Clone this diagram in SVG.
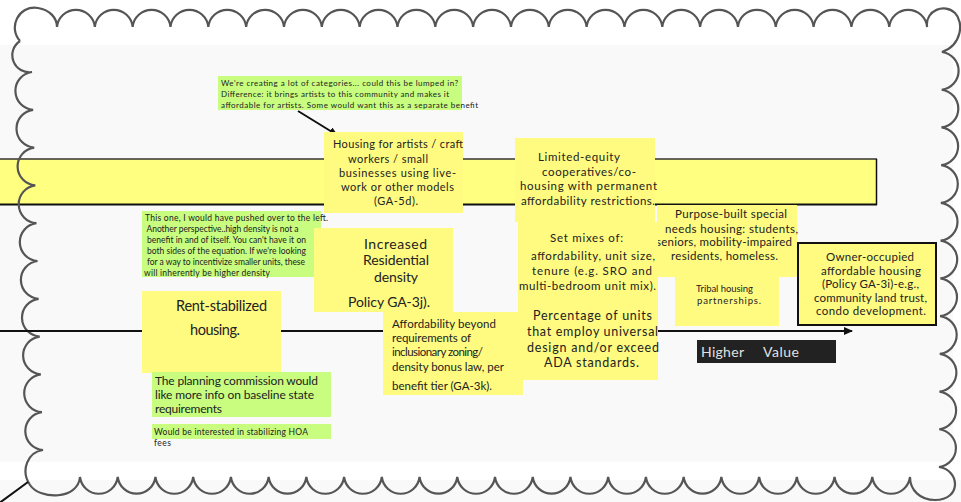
<svg xmlns="http://www.w3.org/2000/svg" width="961" height="502" viewBox="0 0 961 502">
<style>
.sticky{fill:#fffb80}
.note{fill:#c8fd80}
.t{font-family:Lato,"Liberation Sans",sans-serif;fill:#222}
.m{text-anchor:middle}
.conn{stroke:#111;stroke-width:2;fill:none}
.cloud{stroke:#555;stroke-width:2.2;fill:none}
</style>
<defs>
<marker id="ah" markerWidth="9" markerHeight="8" refX="8" refY="4" orient="auto" markerUnits="userSpaceOnUse"><path d="M0,0 L9,4 L0,8 z" fill="#111"/></marker>
</defs>
<rect width="961" height="502" fill="#fff"/>
<rect x="0" y="45" width="953" height="417" fill="#f9f9f9"/>
<rect x="0" y="480" width="961" height="22" fill="#f9f9f9"/>

<g id="band">
<rect x="-2" y="159" width="879" height="45" fill="#ffff80"/>
<line x1="0" y1="159" x2="877" y2="159" stroke="#333" stroke-width="1.5"/>
<line x1="0" y1="204.5" x2="877" y2="204.5" stroke="#111" stroke-width="2"/>
<line x1="876.5" y1="159" x2="876.5" y2="205" stroke="#111" stroke-width="1.5"/>
</g>

<path id="cloud-frame" class="cloud" d="M20,41 C8,28 18,5 38,8 C50,10 57,18 57,27
A19,19 0 0 1 94.83,27 A19,19 0 0 1 132.66,27 A19,19 0 0 1 170.49,27 A19,19 0 0 1 208.32,27 A19,19 0 0 1 246.15,27 A19,19 0 0 1 283.98,27 A19,19 0 0 1 321.81,27 A19,19 0 0 1 359.64,27 A19,19 0 0 1 397.47,27 A19,19 0 0 1 435.3,27 A19,19 0 0 1 473.13,27 A19,19 0 0 1 510.96,27 A19,19 0 0 1 548.79,27 A19,19 0 0 1 586.62,27 A19,19 0 0 1 624.45,27 A19,19 0 0 1 662.28,27 A19,19 0 0 1 700.11,27 A19,19 0 0 1 737.94,27 A19,19 0 0 1 775.77,27 A19,19 0 0 1 813.6,27 A19,19 0 0 1 851.43,27 A19,19 0 0 1 889.26,27 A19,19 0 0 1 927.09,27
C925,10 945,3 955,13 C964,22 962,45 942,52
A19,19 0 0 1 941.7,89.73 A19,19 0 0 1 941.5,127.45 A19,19 0 0 1 941.2,165.18 A19,19 0 0 1 940.9,202.91 A19,19 0 0 1 940.6,240.64 A19,19 0 0 1 940.4,278.36 A19,19 0 0 1 940.1,316.09 A19,19 0 0 1 939.8,353.82 A19,19 0 0 1 939.5,391.55 A19,19 0 0 1 939.3,429.27 A19,19 0 0 1 939,467
C960,470 962,500 935,500 C920,500 910,490 910,477
A19,19 0 0 1 872.27,477 A19,19 0 0 1 834.55,477 A19,19 0 0 1 796.82,477 A19,19 0 0 1 759.09,477 A19,19 0 0 1 721.36,477 A19,19 0 0 1 683.64,477 A19,19 0 0 1 645.91,477 A19,19 0 0 1 608.18,477 A19,19 0 0 1 570.45,477 A19,19 0 0 1 532.73,477 A19,19 0 0 1 495,477 A19,19 0 0 1 457.27,477 A19,19 0 0 1 419.55,477 A19,19 0 0 1 381.82,477 A19,19 0 0 1 344.09,477 A19,19 0 0 1 306.36,477 A19,19 0 0 1 268.64,477 A19,19 0 0 1 230.91,477 A19,19 0 0 1 193.18,477 A19,19 0 0 1 155.45,477 A19,19 0 0 1 117.73,477 A19,19 0 0 1 80,477
C78,500 40,500 30,485 C20,470 28,452 43,450
A19,19 0 0 1 41.9,412.2 A19,19 0 0 1 40.8,374.4 A19,19 0 0 1 39.7,336.6 A19,19 0 0 1 38.6,298.8 A19,19 0 0 1 37.5,261 A19,19 0 0 1 36.4,223.2 A19,19 0 0 1 35.3,185.4 A19,19 0 0 1 34.2,147.6 A19,19 0 0 1 33.1,109.8 A19,19 0 0 1 32,72 A17,17 0 0 1 20,41"/>

<g id="connectors">
<line class="conn" x1="0" y1="331" x2="852" y2="331" marker-end="url(#ah)"/>
<line class="conn" x1="28" y1="482" x2="-6" y2="507"/>
<line class="conn" x1="298" y1="111" x2="337" y2="135" marker-end="url(#ah)"/>
<line class="conn" x1="286" y1="259" x2="335" y2="259" marker-end="url(#ah)"/>
<line class="conn" x1="174" y1="380" x2="166" y2="342" marker-end="url(#ah)"/>
</g>

<g id="note-categories">
<rect class="note" x="218" y="76" width="244" height="34"/>
<text class="t" font-size="8" x="221" y="86" textLength="237">We're creating a lot of categories... could this be lumped in?</text>
<text class="t" font-size="8" x="221" y="97" textLength="228">Difference: it brings artists to this community and makes it</text>
<text class="t" font-size="8" x="221" y="108" textLength="257">affordable for artists. Some would want this as a separate benefit</text>
</g>

<g id="sticky-artists">
<rect class="sticky" x="324" y="132" width="139" height="81"/>
<text class="t m" font-size="11" x="398" y="148" textLength="130">Housing for artists / craft</text>
<text class="t m" font-size="11" x="388" y="162.5" textLength="80">workers / small</text>
<text class="t m" font-size="11" x="397.5" y="176.5" textLength="117">businesses using live-</text>
<text class="t m" font-size="11" x="397.5" y="190.5" textLength="113">work or other models</text>
<text class="t m" font-size="11" x="396" y="205" textLength="44">(GA-5d).</text>
</g>

<g id="sticky-limited-equity">
<rect class="sticky" x="515" y="138" width="140" height="84"/>
<text class="t m" font-size="11.5" x="579" y="161" textLength="82">Limited-equity</text>
<text class="t m" font-size="11.5" x="589" y="175.5" textLength="94">cooperatives/co-</text>
<text class="t m" font-size="11.5" x="588.5" y="190" textLength="137">housing with permanent</text>
<text class="t m" font-size="11.5" x="588" y="204.5" textLength="134">affordability restrictions.</text>
</g>

<g id="sticky-purpose-built">
<rect class="sticky" x="657" y="205" width="140" height="72"/>
<text class="t m" font-size="11.5" x="731" y="218" textLength="112">Purpose-built special</text>
<text class="t m" font-size="11.5" x="731.5" y="232.5" textLength="133">needs housing: students,</text>
<text class="t m" font-size="11.5" x="724" y="246" textLength="136">seniors, mobility-impaired</text>
<text class="t m" font-size="11.5" x="724.5" y="260" textLength="107">residents, homeless.</text>
</g>

<g id="sticky-tribal">
<rect class="sticky" x="675" y="277" width="104" height="49"/>
<text class="t m" font-size="9.5" x="724.5" y="291.5" textLength="57">Tribal housing</text>
<text class="t m" font-size="9.5" x="729" y="304" textLength="64">partnerships.</text>
</g>

<g id="sticky-set-mixes">
<rect class="sticky" x="518" y="222" width="140" height="80"/>
<text class="t m" font-size="11.5" x="586.5" y="241.5" textLength="73">Set mixes of:</text>
<text class="t m" font-size="11.5" x="593" y="260" textLength="124">affordability, unit size,</text>
<text class="t m" font-size="11.5" x="592" y="275" textLength="120">tenure (e.g. SRO and</text>
<text class="t m" font-size="11.5" x="587.5" y="290" textLength="137">multi-bedroom unit mix).</text>
</g>

<g id="sticky-universal-design">
<rect class="sticky" x="518" y="300" width="140" height="80"/>
<text class="t m" font-size="12.5" x="592.5" y="320" textLength="119">Percentage of units</text>
<text class="t m" font-size="12.5" x="592.5" y="336" textLength="131">that employ universal</text>
<text class="t m" font-size="12.5" x="593" y="352" textLength="132">design and/or exceed</text>
<text class="t m" font-size="12.5" x="591.5" y="367" textLength="95">ADA standards.</text>
</g>

<g id="note-density">
<rect class="note" x="142" y="211" width="179" height="66"/>
<text class="t" font-size="8.5" x="145" y="221" textLength="183">This one, I would have pushed over to the left.</text>
<text class="t" font-size="8.5" x="146.5" y="232" textLength="152">Another perspective..high density is not a</text>
<text class="t" font-size="8.5" x="147" y="243" textLength="159">benefit in and of itself.  You can't have it on</text>
<text class="t" font-size="8.5" x="147" y="254" textLength="159">both sides of the equation.  If we're looking</text>
<text class="t" font-size="8.5" x="147" y="265" textLength="158">for a way to incentivize smaller units, these</text>
<text class="t" font-size="8.5" x="144" y="275.5" textLength="126">will inherently be higher density</text>
</g>

<g id="sticky-density">
<rect class="sticky" x="314" y="228" width="139" height="84"/>
<text class="t m" font-size="14" x="395.5" y="249" textLength="63">Increased</text>
<text class="t m" font-size="14" x="396" y="265" textLength="66">Residential</text>
<text class="t m" font-size="14" x="396" y="282" textLength="44">density</text>
<text class="t m" font-size="14" x="389" y="307" textLength="82">Policy GA-3j).</text>
</g>

<g id="sticky-rent-stabilized">
<rect class="sticky" x="142" y="291" width="139" height="82"/>
<text class="t m" font-size="14.5" x="221.5" y="311" textLength="91">Rent-stabilized</text>
<text class="t m" font-size="14.5" x="215" y="335" textLength="50">housing.</text>
</g>

<g id="sticky-affordability">
<rect class="sticky" x="383" y="312" width="140" height="83"/>
<text class="t" font-size="11.5" x="392" y="328" textLength="104">Affordability beyond</text>
<text class="t" font-size="11.5" x="392" y="342" textLength="79">requirements of</text>
<text class="t" font-size="11.5" x="392" y="356" textLength="91">inclusionary zoning/</text>
<text class="t" font-size="11.5" x="392" y="371" textLength="112">density bonus law, per</text>
<text class="t" font-size="11.5" x="392" y="390" textLength="100">benefit tier (GA-3k).</text>
</g>

<g id="note-planning">
<rect class="note" x="152" y="372" width="179" height="45"/>
<text class="t" font-size="12" x="155" y="385" textLength="163">The planning commission would</text>
<text class="t" font-size="12" x="155" y="399" textLength="159">like more info on baseline state</text>
<text class="t" font-size="12" x="155" y="413" textLength="67">requirements</text>
</g>

<g id="note-hoa">
<rect class="note" x="152" y="424" width="179" height="15"/>
<text class="t" font-size="8.5" x="154" y="435" textLength="154">Would be interested in stabilizing HOA</text>
<text class="t" font-size="8.5" x="154" y="446" textLength="17">fees</text>
</g>

<g id="sticky-owner-occupied">
<rect class="sticky" x="798" y="243" width="138" height="82" stroke="#111" stroke-width="2"/>
<text class="t m" font-size="11.5" x="870" y="261" textLength="88">Owner-occupied</text>
<text class="t m" font-size="11.5" x="871" y="274.5" textLength="100">affordable housing</text>
<text class="t m" font-size="11.5" x="870.5" y="288" textLength="97">(Policy GA-3i)-e.g.,</text>
<text class="t m" font-size="11.5" x="870.5" y="301.5" textLength="113">community land trust,</text>
<text class="t m" font-size="11.5" x="871" y="315" textLength="110">condo development.</text>
</g>

<g id="label-higher-value">
<rect x="697" y="340" width="139" height="23" fill="#222"/>
<text font-family="Lato,'Liberation Sans',sans-serif" font-size="14" fill="#e0e0e0" x="701" y="357" textLength="43">Higher</text>
<text font-family="Lato,'Liberation Sans',sans-serif" font-size="14" fill="#e0e0e0" x="763" y="357" textLength="36">Value</text>
</g>
</svg>
